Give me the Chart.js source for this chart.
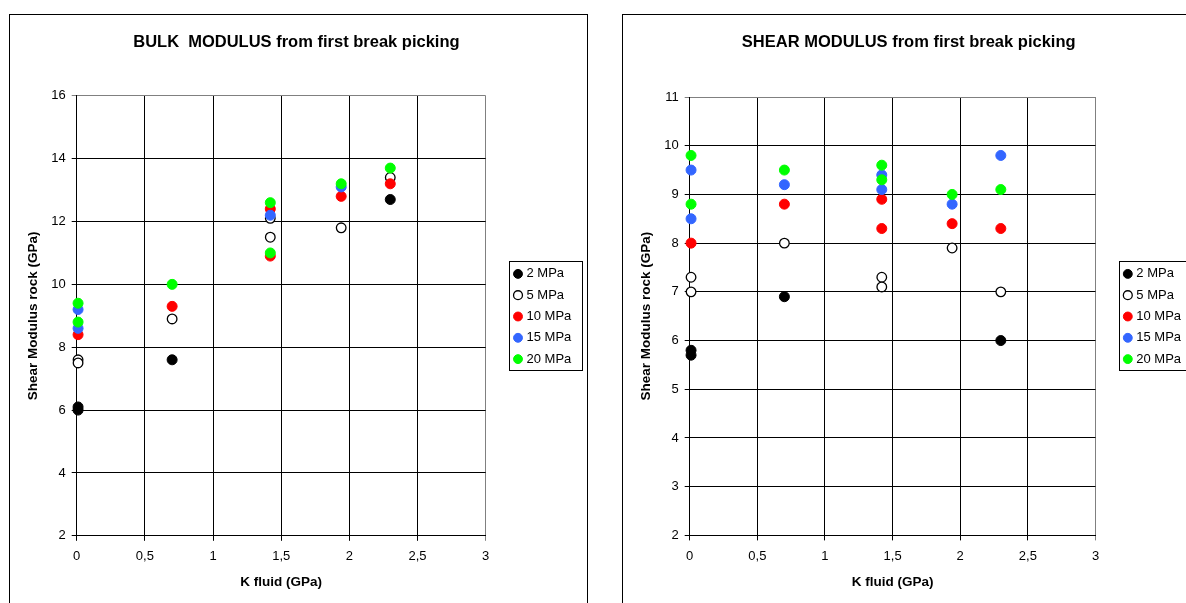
<!DOCTYPE html>
<html><head><meta charset="utf-8">
<script src="https://cdn.jsdelivr.net/npm/chart.js@4.4.1/dist/chart.umd.min.js"></script>
<style>
html,body{margin:0;padding:0;background:#fff;overflow:hidden;width:1186px;height:603px;}
.frame{position:absolute;border:1px solid #000;background:#fff;}
#f1{left:9px;top:14px;width:577px;height:640px;}
#f2{left:622px;top:14px;width:577px;height:640px;}
canvas{position:absolute;}
#c1{left:10px;top:15px;}
#c2{left:623px;top:15px;}
</style></head><body>
<div class="frame" id="f1"></div><div class="frame" id="f2"></div>
<canvas id="c1" width="576" height="588"></canvas>
<canvas id="c2" width="576" height="588"></canvas>
<script>
// ---------- data ----------
const seriesNames = ['2 MPa', '5 MPa', '10 MPa', '15 MPa', '20 MPa'];
const xTickLabels = ['0', '0,5', '1', '1,5', '2', '2,5', '3'];
const bulkTickLabels = ['2', '4', '6', '8', '10', '12', '14', '16'];
const shearTickLabels = ['2', '3', '4', '5', '6', '7', '8', '9', '10', '11'];

// BULK MODULUS (x: K fluid GPa, y: modulus GPa)
const bulk2MPa  = [[0.01, 6.1], [0.01, 6.0], [0.7, 7.6], [2.3, 12.7]];
const bulk5MPa  = [[0.01, 7.6], [0.01, 7.5], [0.7, 8.9], [1.42, 12.1], [1.42, 11.5], [1.94, 11.8], [2.3, 13.4]];
const bulk10MPa = [[0.01, 8.4], [0.7, 9.3], [1.42, 12.4], [1.42, 10.9], [1.94, 12.8], [2.3, 13.2]];
const bulk15MPa = [[0.01, 9.2], [0.01, 8.6], [1.42, 12.2], [1.94, 13.1]];
const bulk20MPa = [[0.01, 9.4], [0.01, 8.8], [0.7, 10.0], [1.42, 12.6], [1.42, 11.0], [1.94, 13.2], [2.3, 13.7]];

// SHEAR MODULUS
const shear2MPa  = [[0.01, 5.8], [0.01, 5.7], [0.7, 6.9], [2.3, 6.0]];
const shear5MPa  = [[0.01, 7.3], [0.01, 7.0], [0.7, 8.0], [1.42, 7.3], [1.42, 7.1], [1.94, 7.9], [2.3, 7.0]];
const shear10MPa = [[0.01, 8.0], [0.7, 8.8], [1.42, 8.9], [1.42, 8.3], [1.94, 8.4], [2.3, 8.3]];
const shear15MPa = [[0.01, 9.5], [0.01, 8.5], [0.7, 9.2], [1.42, 9.4], [1.42, 9.1], [1.94, 8.8], [2.3, 9.8]];
const shear20MPa = [[0.01, 9.8], [0.01, 8.8], [0.7, 9.5], [1.42, 9.6], [1.42, 9.3], [1.94, 9.0], [2.3, 9.1]];

// ---------- styles ----------
const seriesFill   = ['#000000', '#FFFFFF', '#FF0000', '#3366FF', '#00FF00'];
const seriesStroke = ['#000000', '#000000', '#FF0000', '#3366FF', '#00FF00'];
const seriesBorder = [1, 1.3, 1, 1, 1];
const seriesRadius = [5, 4.8, 5, 5, 5];

const FONT = "'Liberation Sans', Arial, Helvetica, sans-serif";
Chart.defaults.font.family = FONT;
Chart.defaults.color = '#000';

const legendFrame = {
  id: 'legendFrame',
  afterDraw(chart) {
    const hb = chart.legend && chart.legend.legendHitBoxes;
    if (!hb || !hb.length) return;
    const ctx = chart.ctx;
    const R = chart.chartArea.right;
    const x0 = Math.round(R + 23.7) + 0.5;
    const x1 = Math.round(R + 96.6) + 0.5;
    const y0 = Math.round(hb[0].top - 6.1) + 0.5;
    const last = hb[hb.length - 1];
    const y1 = Math.round(last.top + last.height + 4.8) + 0.5;
    ctx.save();
    ctx.strokeStyle = '#000';
    ctx.lineWidth = 1;
    ctx.strokeRect(x0, y0, x1 - x0, y1 - y0);
    ctx.restore();
  }
};

function toPts(arr) { return arr.map(p => ({x: p[0], y: p[1]})); }

function build(id, titleText, seriesData, yMin, yMax, yStep, yLabels, g) {
  const PT = 15, PB = 0, DUMMY = 22, LEGW = 70, LP = 8.3;
  const TFS = 16.5, TLH = TFS * 1.2;
  const PR = g.cw - g.R - DUMMY - LEGW;
  const PL = 2 * g.tx - (g.R + DUMMY + LEGW);
  const tPadTop = g.ty - TLH / 2 - PT;
  const tPadBottom = g.T - PT - tPadTop - TLH;
  const yTitlePad = g.ytx - PL - 8.1;
  const xTitlePad = g.ch - PB - g.xty - 8.1;

  const datasets = seriesData.map((d, i) => ({
    label: seriesNames[i],
    data: toPts(d),
    backgroundColor: seriesFill[i],
    borderColor: seriesStroke[i],
    borderWidth: seriesBorder[i],
    pointRadius: seriesRadius[i],
    pointHoverRadius: seriesRadius[i],
    pointStyle: 'circle',
    showLine: false,
    clip: false,
    order: seriesData.length - i
  }));

  return new Chart(document.getElementById(id), {
    type: 'scatter',
    data: { datasets },
    plugins: [legendFrame],
    options: {
      responsive: false,
      animation: false,
      events: [],
      layout: { padding: { left: PL, right: PR, top: PT, bottom: PB } },
      plugins: {
        tooltip: { enabled: false },
        title: {
          display: true, text: titleText, color: '#000',
          font: { size: TFS, weight: 'bold', family: FONT, lineHeight: 1.2 },
          padding: { top: tPadTop, bottom: tPadBottom }
        },
        legend: {
          display: true, position: 'right', align: 'center', maxWidth: LEGW,
          labels: {
            usePointStyle: true, pointStyle: 'circle', boxWidth: 4, boxHeight: 6.3,
            padding: LP, color: '#000',
            font: { size: 13, family: FONT },
            sort: (a, b) => a.datasetIndex - b.datasetIndex
          }
        }
      },
      scales: {
        x: {
          type: 'linear', position: 'bottom', min: 0, max: 3,
          ticks: { stepSize: 0.5, padding: 8, color: '#000', font: { size: 13 },
                   callback: (v, i) => xTickLabels[i] },
          grid: { color: c => (c.index === xTickLabels.length - 1 ? '#808080' : '#000'),
                  lineWidth: 1, tickLength: 5, drawTicks: true },
          border: { color: '#000', width: 1 },
          title: { display: true, text: 'K fluid (GPa)', color: '#000',
                   font: { size: 13.5, weight: 'bold', lineHeight: 1.2 },
                   padding: { top: 0, bottom: xTitlePad } },
          afterFit: s => { s.height = g.ch - PB - g.B; }
        },
        y: {
          type: 'linear', position: 'left', min: yMin, max: yMax,
          ticks: { stepSize: yStep, padding: 6, color: '#000', font: { size: 13 },
                   callback: (v, i) => yLabels[i] },
          grid: { color: c => (c.index === yLabels.length - 1 ? '#808080' : '#000'),
                  lineWidth: 1, tickLength: 5, drawTicks: true },
          border: { color: '#000', width: 1 },
          title: { display: true, text: 'Shear Modulus rock (GPa)', color: '#000',
                   font: { size: 13.5, weight: 'bold', lineHeight: 1.2 },
                   padding: { top: yTitlePad, bottom: 0 } },
          afterFit: s => { s.width = g.L - PL; }
        },
        pad: {
          type: 'linear', position: 'right', display: true,
          ticks: { display: false }, grid: { display: false }, border: { display: false },
          afterFit: s => { s.width = DUMMY; }
        }
      }
    }
  });
}

build('c1', 'BULK  MODULUS from first break picking',
  [bulk2MPa, bulk5MPa, bulk10MPa, bulk15MPa, bulk20MPa], 2, 16, 2, bulkTickLabels,
  { cw: 576, ch: 588, L: 66.7, R: 475.7, T: 80.8, B: 520.8, tx: 286.4, ty: 27, ytx: 23.3, xty: 567 });

build('c2', 'SHEAR MODULUS from first break picking',
  [shear2MPa, shear5MPa, shear10MPa, shear15MPa, shear20MPa], 2, 11, 1, shearTickLabels,
  { cw: 576, ch: 588, L: 66.7, R: 472.5, T: 82, B: 520.4, tx: 285.7, ty: 27.3, ytx: 23.7, xty: 567 });
</script>
</body></html>
